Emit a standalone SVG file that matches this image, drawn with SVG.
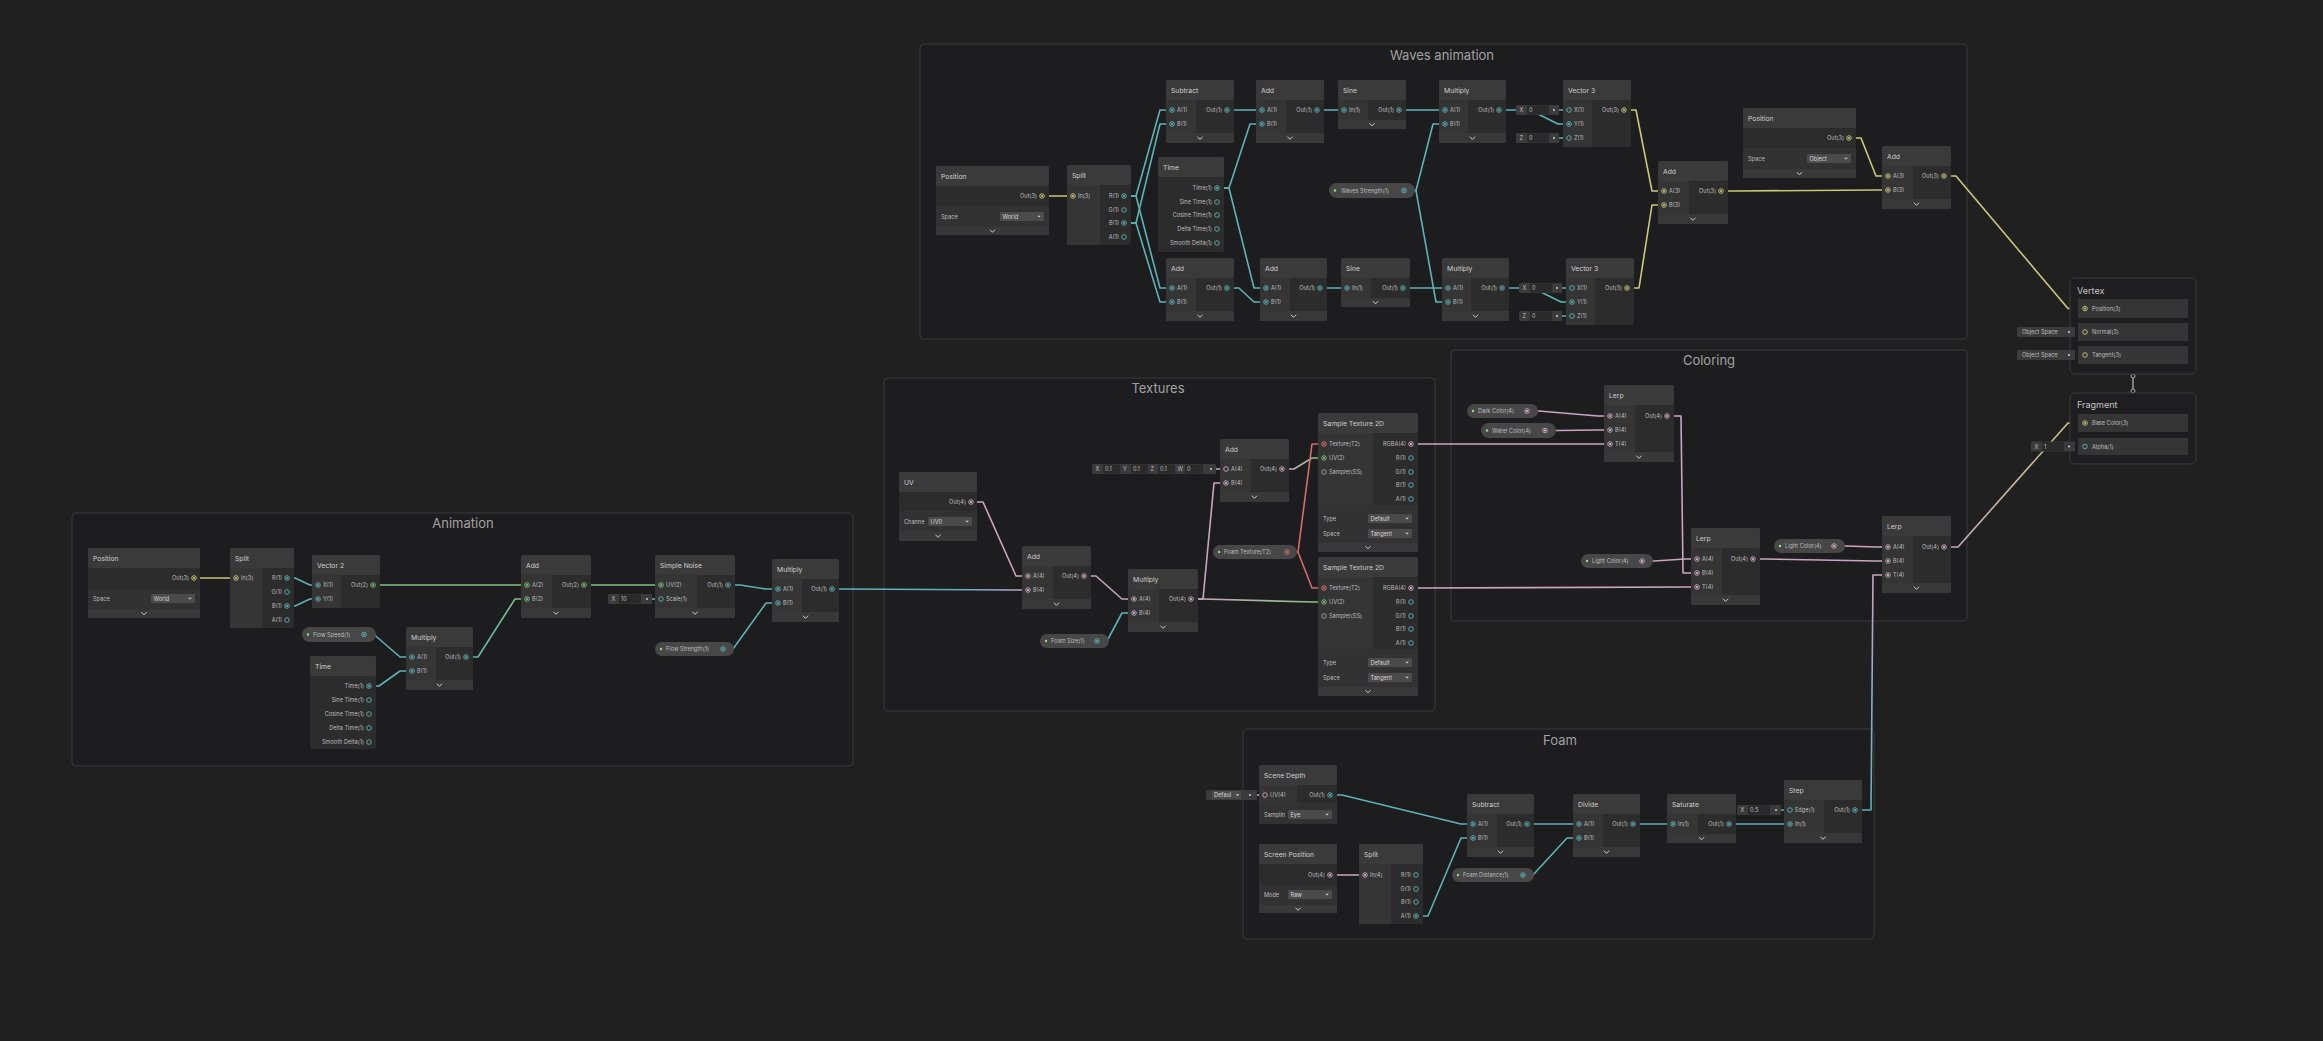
<svg xmlns="http://www.w3.org/2000/svg" width="2323" height="1041" viewBox="0 0 2323 1041">
<style>
.grp{fill:#1d1d1f;stroke:#3a3a3c;stroke-width:1}
.gt{font-family:Inter,"Liberation Sans",sans-serif;font-size:13px;fill:#a2a2a2;text-anchor:middle}
.nb{fill:#2c2c2c}
.hd{fill:#3a3a3a}
.ic{fill:#353535}
.pr{fill:#323232}
.bar{fill:#383838}
.dd{fill:#4b4b4b}
.fl{fill:#3b3b3b}
.fv{fill:#2a2a2a}
.t{font-family:Inter,"Liberation Sans",sans-serif;font-size:6.8px;fill:#cfcfcf}
.l{font-family:Inter,"Liberation Sans",sans-serif;font-size:5.6px;fill:#bdbdbd}
.d{font-family:Inter,"Liberation Sans",sans-serif;font-size:5.6px;fill:#d8d8d8}
.r{text-anchor:end}
.pill{fill:#474747}
.mp{fill:#1e1e20;stroke:#3a3a3c;stroke-width:1}
.mr{fill:#353535}
.mt{font-family:Inter,"Liberation Sans",sans-serif;font-size:9px;fill:#c4c4c4}
.e{fill:none;stroke-width:1.6;stroke-linejoin:round;stroke-linecap:round}
.te{stroke:#5cb3b3}.ye{stroke:#c8c87a}.ge{stroke:#7fc27f}.pe{stroke:#c9a6bf}.re{stroke:#d66b6b}
</style>
<defs>
<g id="pT"><circle r="2.3" fill="none" stroke="#5cb3b3" stroke-width="0.9"/><circle r="1.1" fill="#5cb3b3"/></g>
<circle id="hT" r="2.3" fill="none" stroke="#5cb3b3" stroke-width="0.9"/>
<g id="pY"><circle r="2.3" fill="none" stroke="#c8c87a" stroke-width="0.9"/><circle r="1.1" fill="#c8c87a"/></g>
<circle id="hY" r="2.3" fill="none" stroke="#c8c87a" stroke-width="0.9"/>
<g id="pG"><circle r="2.3" fill="none" stroke="#7fc27f" stroke-width="0.9"/><circle r="1.1" fill="#7fc27f"/></g>
<g id="pP"><circle r="2.3" fill="none" stroke="#c9a6bf" stroke-width="0.9"/><circle r="1.1" fill="#d9c2d2"/></g>
<circle id="hP" r="2.3" fill="none" stroke="#c9a6bf" stroke-width="0.9"/>
<g id="pR"><circle r="2.3" fill="none" stroke="#d66b6b" stroke-width="0.9"/><circle r="1.1" fill="#d66b6b"/></g>
<circle id="hS" r="2.3" fill="none" stroke="#a0a0a0" stroke-width="0.9"/>
<path id="chev" d="M-2.6,-1.3 L0,1.3 L2.6,-1.3" fill="none" stroke="#d0d0d0" stroke-width="1"/>
<path id="dar" d="M-1.8,-0.8 H1.8 L0,1.1 Z" fill="#cfcfcf"/>
<circle id="dot" r="1.2" fill="#8fe07c"/>
<circle id="fd" r="0.9" fill="#dcdcdc"/>
<linearGradient id="g1" gradientUnits="userSpaceOnUse" x1="832" y1="0" x2="1028" y2="0"><stop offset="0.6" stop-color="#5cb3b3"/><stop offset="1" stop-color="#c9a6bf"/></linearGradient>
<linearGradient id="g2" gradientUnits="userSpaceOnUse" x1="1191" y1="0" x2="1324" y2="0"><stop offset="0" stop-color="#c9a6bf"/><stop offset="1" stop-color="#7fc27f"/></linearGradient>
<linearGradient id="g3" gradientUnits="userSpaceOnUse" x1="1282" y1="0" x2="1324" y2="0"><stop offset="0" stop-color="#c9a6bf"/><stop offset="1" stop-color="#7fc27f"/></linearGradient>
<linearGradient id="g4" gradientUnits="userSpaceOnUse" x1="0" y1="810" x2="0" y2="575"><stop offset="0" stop-color="#5cb3b3"/><stop offset="1" stop-color="#c9a6bf"/></linearGradient>
<linearGradient id="g5" gradientUnits="userSpaceOnUse" x1="1944" y1="0" x2="2085" y2="0"><stop offset="0" stop-color="#c9a6bf"/><stop offset="1" stop-color="#c8c87a"/></linearGradient>
<linearGradient id="g6" gradientUnits="userSpaceOnUse" x1="466" y1="0" x2="527" y2="0"><stop offset="0" stop-color="#5cb3b3"/><stop offset="1" stop-color="#7fc27f"/></linearGradient>
</defs>
<rect x="0" y="0" width="2323" height="1041" fill="#202021"/>

<g id="groups">
<g id="group-waves"><rect class="grp" x="920" y="44" width="1047" height="295" rx="4"/><text class="gt" x="1442" y="60">Waves animation</text></g>
<g id="group-textures"><rect class="grp" x="884" y="378" width="551" height="333" rx="4"/><text class="gt" x="1158" y="393">Textures</text></g>
<g id="group-coloring"><rect class="grp" x="1451" y="350" width="516" height="271" rx="4"/><text class="gt" x="1709" y="365">Coloring</text></g>
<g id="group-animation"><rect class="grp" x="72" y="513" width="781" height="253" rx="4"/><text class="gt" x="463" y="528">Animation</text></g>
<g id="group-foam"><rect class="grp" x="1243" y="729" width="631" height="210" rx="4"/><text class="gt" x="1560" y="745">Foam</text></g>
</g>

<g id="connectors">
<path class="e ye" d="M1042,196 H1073"/>
<path class="e te" d="M1124,196 h12 L1160,110 H1172"/>
<path class="e te" d="M1124,196 h12 L1160,288 H1172"/>
<path class="e te" d="M1124,223 h12 L1160,124 H1172"/>
<path class="e te" d="M1124,223 h12 L1160,302 H1172"/>
<path class="e te" d="M1217,188 h12 L1250,124 H1262"/>
<path class="e te" d="M1217,188 h12 L1254,288 H1266"/>
<path class="e te" d="M1227,110 H1262"/>
<path class="e te" d="M1227,288 h12 L1254,302 H1266"/>
<path class="e te" d="M1317,110 H1344"/>
<path class="e te" d="M1320,288 H1347"/>
<path class="e te" d="M1399,110 H1445"/>
<path class="e te" d="M1403,288 H1448"/>
<path class="e te" d="M1404,190.5 h12 L1433,124 H1445"/>
<path class="e te" d="M1404,190.5 h12 L1436,302 H1448"/>
<path class="e te" d="M1499,110 H1530 L1558,124 H1569"/>
<path class="e te" d="M1502,288 H1533 L1561,302 H1572"/>
<path class="e te" d="M1554,110 H1569 M1554,138 H1569 M1557,288 H1572 M1557,316 H1572"/>
<path class="e ye" d="M1624,110 h12 L1652,191 H1664"/>
<path class="e ye" d="M1627,288 h12 L1652,205 H1664"/>
<path class="e ye" d="M1721,191 h12 L1876,190 H1888"/>
<path class="e ye" d="M1849,138 h12 L1876,176 H1888"/>
<path class="e ye" d="M1944,176 h12 L2068,308.5 H2085"/>
<path class="e ye" d="M2069,332 H2085 M2069,355 H2085"/>
<path class="e pe" d="M971,502 h12 L1016,576 H1028"/>
<path class="e" stroke="url(#g1)" d="M832,589 h12 L1016,590 H1028"/>
<path class="e pe" d="M1084,576 h12 L1122,599 H1134"/>
<path class="e te" d="M1097,641 h10 L1122,613 H1134"/>
<path class="e pe" d="M1191,599 h12 L1214,483 H1226"/>
<path class="e" stroke="url(#g2)" d="M1191,599 h12 L1312,602 H1324"/>
<path class="e" stroke="url(#g3)" d="M1282,469 h12 L1312,458 H1324"/>
<path class="e re" d="M1286,552 h12 L1312,444 H1324"/>
<path class="e re" d="M1286,552 h12 L1312,588 H1324"/>
<path class="e pe" d="M1211,469 H1226"/>
<path class="e pe" d="M1411,444 H1610"/>
<path class="e pe" d="M1411,588 h12 L1685,587 H1697"/>
<path class="e pe" d="M1527,411 h12 L1598,416 H1610"/>
<path class="e pe" d="M1545,430.5 h12 L1598,430 H1610"/>
<path class="e pe" d="M1667,416 h14 L1683,573 H1697"/>
<path class="e pe" d="M1642,561 h12 L1685,559 H1697"/>
<path class="e pe" d="M1753,559 h12 L1876,561 H1888"/>
<path class="e pe" d="M1834,546 h12 L1876,547 H1888"/>
<path class="e" stroke="url(#g4)" d="M1855,810 h16 L1873,575 H1888"/>
<path class="e" stroke="url(#g5)" d="M1944,547 h14 L2068,423 H2085"/>
<path class="e te" d="M2069,446.5 H2085"/>
<path class="e ye" d="M194,578 H236"/>
<path class="e te" d="M287,578 h8 L310,585 H318"/>
<path class="e te" d="M287,606 h8 L310,599 H318"/>
<path class="e ge" d="M373,585 H527"/>
<path class="e te" d="M364,634.5 h10 L400,657 H412"/>
<path class="e te" d="M369,686 h10 L400,671 H412"/>
<path class="e" stroke="url(#g6)" d="M466,657 h12 L515,599 H527"/>
<path class="e ge" d="M584,585 H661"/>
<path class="e te" d="M647,599 H661"/>
<path class="e te" d="M728,585 h12 L766,589 H778"/>
<path class="e te" d="M723,649 h10 L766,603 H778"/>
<path class="e pe" d="M1250,795 H1265"/>
<path class="e te" d="M1330,795 h12 L1461,824 H1473"/>
<path class="e pe" d="M1330,875 H1365"/>
<path class="e te" d="M1416,916 h12 L1461,838 H1473"/>
<path class="e te" d="M1527,824 H1579"/>
<path class="e te" d="M1523,875 h10 L1567,838 H1579"/>
<path class="e te" d="M1633,824 H1673"/>
<path class="e te" d="M1729,824 H1790"/>
<path class="e te" d="M1776,810 H1790"/>
<line x1="2133" y1="376" x2="2133" y2="391" stroke="#bdbdbd" stroke-width="1.2"/>
<circle cx="2133" cy="376" r="2" fill="#1e1e20" stroke="#bdbdbd" stroke-width="0.9"/>
<circle cx="2133" cy="391" r="2" fill="#1e1e20" stroke="#bdbdbd" stroke-width="0.9"/>
</g>

<!-- ===== Waves animation ===== -->
<g id="w-position">
<rect class="nb" x="936" y="166" width="113" height="69" rx="2"/><rect class="hd" x="936" y="166" width="113" height="20" rx="2"/>
<text class="t" x="941" y="179">Position</text>
<text class="l r" x="1037" y="198">Out(3)</text><use href="#pY" x="1042" y="196"/>
<rect class="pr" x="936" y="206" width="113" height="21"/><text class="l" x="941" y="218.5">Space</text>
<rect class="dd" x="1000" y="212" width="44" height="9" rx="1"/><text class="d" x="1002.5" y="218.5">World</text><use href="#dar" x="1039" y="216.5"/>
<rect class="bar" x="936" y="227" width="113" height="8"/><use href="#chev" x="992.5" y="231"/>
</g>
<g id="w-split">
<rect class="nb" x="1067" y="165" width="64" height="80" rx="2"/><rect class="hd" x="1067" y="165" width="64" height="20" rx="2"/><rect class="ic" x="1067" y="185" width="33" height="60"/>
<text class="t" x="1072" y="178">Split</text>
<use href="#pY" x="1073" y="196"/><text class="l" x="1078" y="198">In(3)</text>
<text class="l r" x="1119" y="198">R(1)</text><use href="#pT" x="1124" y="196"/>
<text class="l r" x="1119" y="212">G(1)</text><use href="#hT" x="1124" y="210"/>
<text class="l r" x="1119" y="225">B(1)</text><use href="#pT" x="1124" y="223"/>
<text class="l r" x="1119" y="239">A(1)</text><use href="#hT" x="1124" y="237"/>
</g>
<g id="w-subtract">
<rect class="nb" x="1166" y="80" width="68" height="63" rx="2"/><rect class="hd" x="1166" y="80" width="68" height="20" rx="2"/><rect class="ic" x="1166" y="100" width="30" height="33"/><rect class="bar" x="1166" y="133" width="68" height="10"/>
<text class="t" x="1171" y="93">Subtract</text>
<use href="#pT" x="1172" y="110"/><text class="l" x="1177" y="112">A(1)</text>
<use href="#pT" x="1172" y="124"/><text class="l" x="1177" y="126">B(1)</text>
<text class="l r" x="1222" y="112">Out(1)</text><use href="#pT" x="1227" y="110"/>
<use href="#chev" x="1200" y="138"/>
</g>
<g id="w-add-1">
<rect class="nb" x="1256" y="80" width="68" height="63" rx="2"/><rect class="hd" x="1256" y="80" width="68" height="20" rx="2"/><rect class="ic" x="1256" y="100" width="30" height="33"/><rect class="bar" x="1256" y="133" width="68" height="10"/>
<text class="t" x="1261" y="93">Add</text>
<use href="#pT" x="1262" y="110"/><text class="l" x="1267" y="112">A(1)</text>
<use href="#pT" x="1262" y="124"/><text class="l" x="1267" y="126">B(1)</text>
<text class="l r" x="1312" y="112">Out(1)</text><use href="#pT" x="1317" y="110"/>
<use href="#chev" x="1290" y="138"/>
</g>
<g id="w-sine-1">
<rect class="nb" x="1338" y="80" width="68" height="49" rx="2"/><rect class="hd" x="1338" y="80" width="68" height="20" rx="2"/><rect class="ic" x="1338" y="100" width="30" height="20"/><rect class="bar" x="1338" y="120" width="68" height="9"/>
<text class="t" x="1343" y="93">Sine</text>
<use href="#pT" x="1344" y="110"/><text class="l" x="1349" y="112">In(1)</text>
<text class="l r" x="1394" y="112">Out(1)</text><use href="#pT" x="1399" y="110"/>
<use href="#chev" x="1372" y="124.5"/>
</g>
<g id="w-multiply-1">
<rect class="nb" x="1439" y="80" width="67" height="63" rx="2"/><rect class="hd" x="1439" y="80" width="67" height="20" rx="2"/><rect class="ic" x="1439" y="100" width="29" height="33"/><rect class="bar" x="1439" y="133" width="67" height="10"/>
<text class="t" x="1444" y="93">Multiply</text>
<use href="#pT" x="1445" y="110"/><text class="l" x="1450" y="112">A(1)</text>
<use href="#pT" x="1445" y="124"/><text class="l" x="1450" y="126">B(1)</text>
<text class="l r" x="1494" y="112">Out(1)</text><use href="#pT" x="1499" y="110"/>
<use href="#chev" x="1472.5" y="138"/>
</g>
<g id="w-vector3-1">
<rect class="nb" x="1563" y="80" width="68" height="67" rx="2"/><rect class="hd" x="1563" y="80" width="68" height="20" rx="2"/><rect class="ic" x="1563" y="100" width="29" height="47"/>
<text class="t" x="1568" y="93">Vector 3</text>
<use href="#hT" x="1569" y="110"/><text class="l" x="1574" y="112">X(1)</text>
<use href="#pT" x="1569" y="124"/><text class="l" x="1574" y="126">Y(1)</text>
<use href="#hT" x="1569" y="138"/><text class="l" x="1574" y="140">Z(1)</text>
<text class="l r" x="1619" y="112">Out(3)</text><use href="#pY" x="1624" y="110"/>
</g>
<g id="w-vector3-1-x"><rect class="fl" x="1516" y="105" width="43" height="10" rx="1"/><rect class="fv" x="1527" y="105.5" width="22" height="9"/><text class="l" x="1519.5" y="112">X</text><text class="l" x="1529" y="112">0</text><use href="#fd" x="1554" y="110"/></g>
<g id="w-vector3-1-z"><rect class="fl" x="1516" y="133" width="43" height="10" rx="1"/><rect class="fv" x="1527" y="133.5" width="22" height="9"/><text class="l" x="1519.5" y="140">Z</text><text class="l" x="1529" y="140">0</text><use href="#fd" x="1554" y="138"/></g>
<g id="w-time">
<rect class="nb" x="1158" y="157" width="66" height="95" rx="2"/><rect class="hd" x="1158" y="157" width="66" height="20" rx="2"/>
<text class="t" x="1163" y="170">Time</text>
<text class="l r" x="1212" y="190">Time(1)</text><use href="#pT" x="1217" y="188"/>
<text class="l r" x="1212" y="204">Sine Time(1)</text><use href="#hT" x="1217" y="202"/>
<text class="l r" x="1212" y="217">Cosine Time(1)</text><use href="#hT" x="1217" y="215"/>
<text class="l r" x="1212" y="231">Delta Time(1)</text><use href="#hT" x="1217" y="229"/>
<text class="l r" x="1212" y="245">Smooth Delta(1)</text><use href="#hT" x="1217" y="243"/>
</g>
<g id="w-add-2">
<rect class="nb" x="1166" y="258" width="68" height="63" rx="2"/><rect class="hd" x="1166" y="258" width="68" height="20" rx="2"/><rect class="ic" x="1166" y="278" width="30" height="33"/><rect class="bar" x="1166" y="311" width="68" height="10"/>
<text class="t" x="1171" y="271">Add</text>
<use href="#pT" x="1172" y="288"/><text class="l" x="1177" y="290">A(1)</text>
<use href="#pT" x="1172" y="302"/><text class="l" x="1177" y="304">B(1)</text>
<text class="l r" x="1222" y="290">Out(1)</text><use href="#pT" x="1227" y="288"/>
<use href="#chev" x="1200" y="316"/>
</g>
<g id="w-add-3">
<rect class="nb" x="1260" y="258" width="67" height="63" rx="2"/><rect class="hd" x="1260" y="258" width="67" height="20" rx="2"/><rect class="ic" x="1260" y="278" width="30" height="33"/><rect class="bar" x="1260" y="311" width="67" height="10"/>
<text class="t" x="1265" y="271">Add</text>
<use href="#pT" x="1266" y="288"/><text class="l" x="1271" y="290">A(1)</text>
<use href="#pT" x="1266" y="302"/><text class="l" x="1271" y="304">B(1)</text>
<text class="l r" x="1315" y="290">Out(1)</text><use href="#pT" x="1320" y="288"/>
<use href="#chev" x="1293.5" y="316"/>
</g>
<g id="w-sine-2">
<rect class="nb" x="1341" y="258" width="69" height="49" rx="2"/><rect class="hd" x="1341" y="258" width="69" height="20" rx="2"/><rect class="ic" x="1341" y="278" width="30" height="20"/><rect class="bar" x="1341" y="298" width="69" height="9"/>
<text class="t" x="1346" y="271">Sine</text>
<use href="#pT" x="1347" y="288"/><text class="l" x="1352" y="290">In(1)</text>
<text class="l r" x="1398" y="290">Out(1)</text><use href="#pT" x="1403" y="288"/>
<use href="#chev" x="1375.5" y="302.5"/>
</g>
<g id="w-multiply-2">
<rect class="nb" x="1442" y="258" width="67" height="63" rx="2"/><rect class="hd" x="1442" y="258" width="67" height="20" rx="2"/><rect class="ic" x="1442" y="278" width="29" height="33"/><rect class="bar" x="1442" y="311" width="67" height="10"/>
<text class="t" x="1447" y="271">Multiply</text>
<use href="#pT" x="1448" y="288"/><text class="l" x="1453" y="290">A(1)</text>
<use href="#pT" x="1448" y="302"/><text class="l" x="1453" y="304">B(1)</text>
<text class="l r" x="1497" y="290">Out(1)</text><use href="#pT" x="1502" y="288"/>
<use href="#chev" x="1475.5" y="316"/>
</g>
<g id="w-vector3-2">
<rect class="nb" x="1566" y="258" width="68" height="67" rx="2"/><rect class="hd" x="1566" y="258" width="68" height="20" rx="2"/><rect class="ic" x="1566" y="278" width="29" height="47"/>
<text class="t" x="1571" y="271">Vector 3</text>
<use href="#hT" x="1572" y="288"/><text class="l" x="1577" y="290">X(1)</text>
<use href="#pT" x="1572" y="302"/><text class="l" x="1577" y="304">Y(1)</text>
<use href="#hT" x="1572" y="316"/><text class="l" x="1577" y="318">Z(1)</text>
<text class="l r" x="1622" y="290">Out(3)</text><use href="#pY" x="1627" y="288"/>
</g>
<g id="w-vector3-2-x"><rect class="fl" x="1519" y="283" width="43" height="10" rx="1"/><rect class="fv" x="1530" y="283.5" width="22" height="9"/><text class="l" x="1522.5" y="290">X</text><text class="l" x="1532" y="290">0</text><use href="#fd" x="1557" y="288"/></g>
<g id="w-vector3-2-z"><rect class="fl" x="1519" y="311" width="43" height="10" rx="1"/><rect class="fv" x="1530" y="311.5" width="22" height="9"/><text class="l" x="1522.5" y="318">Z</text><text class="l" x="1532" y="318">0</text><use href="#fd" x="1557" y="316"/></g>
<g id="w-waves-strength"><rect class="pill" x="1329" y="183" width="86" height="15" rx="7.5"/><use href="#dot" x="1335" y="190.5"/><text class="l" x="1341" y="192.5">Waves Strength(1)</text><use href="#pT" x="1404" y="190.5"/></g>
<g id="w-add-4">
<rect class="nb" x="1658" y="161" width="70" height="63" rx="2"/><rect class="hd" x="1658" y="161" width="70" height="20" rx="2"/><rect class="ic" x="1658" y="181" width="31" height="33"/><rect class="bar" x="1658" y="214" width="70" height="10"/>
<text class="t" x="1663" y="174">Add</text>
<use href="#pY" x="1664" y="191"/><text class="l" x="1669" y="193">A(3)</text>
<use href="#pY" x="1664" y="205"/><text class="l" x="1669" y="207">B(3)</text>
<text class="l r" x="1716" y="193">Out(3)</text><use href="#pY" x="1721" y="191"/>
<use href="#chev" x="1693" y="219"/>
</g>
<g id="w-position-object">
<rect class="nb" x="1743" y="108" width="113" height="70" rx="2"/><rect class="hd" x="1743" y="108" width="113" height="20" rx="2"/>
<text class="t" x="1748" y="121">Position</text>
<text class="l r" x="1844" y="140">Out(3)</text><use href="#pY" x="1849" y="138"/>
<rect class="pr" x="1743" y="148" width="113" height="21"/><text class="l" x="1748" y="160.5">Space</text>
<rect class="dd" x="1807" y="154" width="44" height="9" rx="1"/><text class="d" x="1809.5" y="160.5">Object</text><use href="#dar" x="1846" y="158.5"/>
<rect class="bar" x="1743" y="169" width="113" height="9"/><use href="#chev" x="1799.5" y="173.5"/>
</g>
<g id="w-add-5">
<rect class="nb" x="1882" y="146" width="69" height="63" rx="2"/><rect class="hd" x="1882" y="146" width="69" height="20" rx="2"/><rect class="ic" x="1882" y="166" width="31" height="33"/><rect class="bar" x="1882" y="199" width="69" height="10"/>
<text class="t" x="1887" y="159">Add</text>
<use href="#pY" x="1888" y="176"/><text class="l" x="1893" y="178">A(3)</text>
<use href="#pY" x="1888" y="190"/><text class="l" x="1893" y="192">B(3)</text>
<text class="l r" x="1939" y="178">Out(3)</text><use href="#pY" x="1944" y="176"/>
<use href="#chev" x="1916.5" y="204"/>
</g>

<!-- ===== Master stack ===== -->
<g id="vertex">
<rect class="mp" x="2070" y="278" width="126" height="96" rx="5"/>
<text class="mt" x="2077" y="294">Vertex</text>
<rect class="mr" x="2078" y="299" width="110" height="19"/><use href="#pY" x="2085" y="308.5"/><text class="l" x="2092" y="310.5">Position(3)</text>
<rect class="mr" x="2078" y="323" width="110" height="18"/><use href="#hY" x="2085" y="332"/><text class="l" x="2092" y="334">Normal(3)</text>
<rect class="mr" x="2078" y="346" width="110" height="18"/><use href="#hY" x="2085" y="355"/><text class="l" x="2092" y="357">Tangent(3)</text>
</g>
<g id="vertex-normal-space"><rect class="fl" x="2017" y="327" width="58" height="10" rx="1"/><text class="l" x="2022" y="334">Object Space</text><use href="#fd" x="2069" y="332"/></g>
<g id="vertex-tangent-space"><rect class="fl" x="2017" y="350" width="58" height="10" rx="1"/><text class="l" x="2022" y="357">Object Space</text><use href="#fd" x="2069" y="355"/></g>
<g id="fragment">
<rect class="mp" x="2070" y="393" width="126" height="71" rx="5"/>
<text class="mt" x="2077" y="408">Fragment</text>
<rect class="mr" x="2078" y="414" width="110" height="18"/><use href="#pY" x="2085" y="423"/><text class="l" x="2092" y="425">Base Color(3)</text>
<rect class="mr" x="2078" y="438" width="110" height="17"/><use href="#hT" x="2085" y="446.5"/><text class="l" x="2092" y="448.5">Alpha(1)</text>
</g>
<g id="fragment-alpha"><rect class="fl" x="2031" y="441.5" width="44" height="10" rx="1"/><rect class="fv" x="2042" y="442" width="22" height="9"/><text class="l" x="2034.5" y="448.5">X</text><text class="l" x="2044" y="448.5">1</text><use href="#fd" x="2069" y="446.5"/></g>

<!-- ===== Textures ===== -->
<g id="t-uv">
<rect class="nb" x="899" y="472" width="78" height="69" rx="2"/><rect class="hd" x="899" y="472" width="78" height="20" rx="2"/>
<text class="t" x="904" y="485">UV</text>
<text class="l r" x="966" y="504">Out(4)</text><use href="#pP" x="971" y="502"/>
<rect class="pr" x="899" y="511" width="78" height="20"/><text class="l" x="904" y="523.5">Channe</text>
<rect class="dd" x="928" y="517" width="44" height="9" rx="1"/><text class="d" x="930.5" y="523.5">UV0</text><use href="#dar" x="967" y="521.5"/>
<rect class="bar" x="899" y="531" width="78" height="10"/><use href="#chev" x="938" y="536"/>
</g>
<g id="t-add-1">
<rect class="nb" x="1022" y="546" width="69" height="63" rx="2"/><rect class="hd" x="1022" y="546" width="69" height="20" rx="2"/><rect class="ic" x="1022" y="566" width="31" height="33"/><rect class="bar" x="1022" y="599" width="69" height="10"/>
<text class="t" x="1027" y="559">Add</text>
<use href="#pP" x="1028" y="576"/><text class="l" x="1033" y="578">A(4)</text>
<use href="#pP" x="1028" y="590"/><text class="l" x="1033" y="592">B(4)</text>
<text class="l r" x="1079" y="578">Out(4)</text><use href="#pP" x="1084" y="576"/>
<use href="#chev" x="1056.5" y="604"/>
</g>
<g id="t-multiply">
<rect class="nb" x="1128" y="569" width="70" height="63" rx="2"/><rect class="hd" x="1128" y="569" width="70" height="20" rx="2"/><rect class="ic" x="1128" y="589" width="31" height="33"/><rect class="bar" x="1128" y="622" width="70" height="10"/>
<text class="t" x="1133" y="582">Multiply</text>
<use href="#pP" x="1134" y="599"/><text class="l" x="1139" y="601">A(4)</text>
<use href="#pP" x="1134" y="613"/><text class="l" x="1139" y="615">B(4)</text>
<text class="l r" x="1186" y="601">Out(4)</text><use href="#pP" x="1191" y="599"/>
<use href="#chev" x="1163" y="627"/>
</g>
<g id="t-foam-size"><rect class="pill" x="1040" y="634" width="69" height="14" rx="7"/><use href="#dot" x="1046" y="641"/><text class="l" x="1051" y="643">Foam Size(1)</text><use href="#pT" x="1097" y="641"/></g>
<g id="t-offset">
<rect class="fl" x="1092" y="464" width="124" height="10" rx="1"/>
<rect class="fv" x="1103" y="464.5" width="17" height="9"/><rect class="fv" x="1131" y="464.5" width="17" height="9"/><rect class="fv" x="1158" y="464.5" width="17" height="9"/><rect class="fv" x="1185" y="464.5" width="18" height="9"/>
<text class="l" x="1095.5" y="471">X</text><text class="l" x="1105" y="471">0.1</text>
<text class="l" x="1123" y="471">Y</text><text class="l" x="1133" y="471">0.1</text>
<text class="l" x="1150.5" y="471">Z</text><text class="l" x="1160" y="471">0.1</text>
<text class="l" x="1177.5" y="471">W</text><text class="l" x="1187" y="471">0</text>
<use href="#fd" x="1211" y="469"/>
</g>
<g id="t-add-2">
<rect class="nb" x="1220" y="439" width="69" height="63" rx="2"/><rect class="hd" x="1220" y="439" width="69" height="20" rx="2"/><rect class="ic" x="1220" y="459" width="31" height="33"/><rect class="bar" x="1220" y="492" width="69" height="10"/>
<text class="t" x="1225" y="452">Add</text>
<use href="#hP" x="1226" y="469"/><text class="l" x="1231" y="471">A(4)</text>
<use href="#pP" x="1226" y="483"/><text class="l" x="1231" y="485">B(4)</text>
<text class="l r" x="1277" y="471">Out(4)</text><use href="#pP" x="1282" y="469"/>
<use href="#chev" x="1254.5" y="497"/>
</g>
<g id="t-foam-texture"><rect class="pill" x="1213" y="545" width="84" height="14" rx="7"/><use href="#dot" x="1219" y="552"/><text class="l" x="1224" y="554">Foam Texture(T2)</text><use href="#pR" x="1287" y="552"/></g>
<g id="t-sample-1">
<rect class="nb" x="1318" y="413" width="100" height="139" rx="2"/><rect class="hd" x="1318" y="413" width="100" height="20" rx="2"/><rect class="ic" x="1318" y="433" width="55" height="72"/>
<text class="t" x="1323" y="426">Sample Texture 2D</text>
<use href="#pR" x="1324" y="444"/><text class="l" x="1329" y="446">Texture(T2)</text>
<use href="#pG" x="1324" y="458"/><text class="l" x="1329" y="460">UV(2)</text>
<use href="#hS" x="1324" y="472"/><text class="l" x="1329" y="474">Sampler(SS)</text>
<text class="l r" x="1406" y="446">RGBA(4)</text><use href="#pP" x="1411" y="444"/>
<text class="l r" x="1406" y="460">R(1)</text><use href="#hT" x="1411" y="458"/>
<text class="l r" x="1406" y="474">G(1)</text><use href="#hT" x="1411" y="472"/>
<text class="l r" x="1406" y="487">B(1)</text><use href="#hT" x="1411" y="485"/>
<text class="l r" x="1406" y="501">A(1)</text><use href="#hT" x="1411" y="499"/>
<rect class="pr" x="1318" y="505" width="100" height="38"/>
<text class="l" x="1323" y="520.5">Type</text><rect class="dd" x="1368" y="514" width="44" height="9" rx="1"/><text class="d" x="1370.5" y="520.5">Default</text><use href="#dar" x="1407" y="518.5"/>
<text class="l" x="1323" y="535.5">Space</text><rect class="dd" x="1368" y="529" width="44" height="9" rx="1"/><text class="d" x="1370.5" y="535.5">Tangent</text><use href="#dar" x="1407" y="533.5"/>
<rect class="bar" x="1318" y="543" width="100" height="9"/><use href="#chev" x="1368" y="547.5"/>
</g>
<g id="t-sample-2">
<rect class="nb" x="1318" y="557" width="100" height="139" rx="2"/><rect class="hd" x="1318" y="557" width="100" height="20" rx="2"/><rect class="ic" x="1318" y="577" width="55" height="72"/>
<text class="t" x="1323" y="570">Sample Texture 2D</text>
<use href="#pR" x="1324" y="588"/><text class="l" x="1329" y="590">Texture(T2)</text>
<use href="#pG" x="1324" y="602"/><text class="l" x="1329" y="604">UV(2)</text>
<use href="#hS" x="1324" y="616"/><text class="l" x="1329" y="618">Sampler(SS)</text>
<text class="l r" x="1406" y="590">RGBA(4)</text><use href="#pP" x="1411" y="588"/>
<text class="l r" x="1406" y="604">R(1)</text><use href="#hT" x="1411" y="602"/>
<text class="l r" x="1406" y="618">G(1)</text><use href="#hT" x="1411" y="616"/>
<text class="l r" x="1406" y="631">B(1)</text><use href="#hT" x="1411" y="629"/>
<text class="l r" x="1406" y="645">A(1)</text><use href="#hT" x="1411" y="643"/>
<rect class="pr" x="1318" y="649" width="100" height="38"/>
<text class="l" x="1323" y="664.5">Type</text><rect class="dd" x="1368" y="658" width="44" height="9" rx="1"/><text class="d" x="1370.5" y="664.5">Default</text><use href="#dar" x="1407" y="662.5"/>
<text class="l" x="1323" y="679.5">Space</text><rect class="dd" x="1368" y="673" width="44" height="9" rx="1"/><text class="d" x="1370.5" y="679.5">Tangent</text><use href="#dar" x="1407" y="677.5"/>
<rect class="bar" x="1318" y="687" width="100" height="9"/><use href="#chev" x="1368" y="691.5"/>
</g>

<!-- ===== Coloring ===== -->
<g id="c-lerp-1">
<rect class="nb" x="1604" y="385" width="70" height="77" rx="2"/><rect class="hd" x="1604" y="385" width="70" height="20" rx="2"/><rect class="ic" x="1604" y="405" width="31" height="47"/><rect class="bar" x="1604" y="452" width="70" height="10"/>
<text class="t" x="1609" y="398">Lerp</text>
<use href="#pP" x="1610" y="416"/><text class="l" x="1615" y="418">A(4)</text>
<use href="#pP" x="1610" y="430"/><text class="l" x="1615" y="432">B(4)</text>
<use href="#pP" x="1610" y="444"/><text class="l" x="1615" y="446">T(4)</text>
<text class="l r" x="1662" y="418">Out(4)</text><use href="#pP" x="1667" y="416"/>
<use href="#chev" x="1639" y="457"/>
</g>
<g id="c-dark-color"><rect class="pill" x="1467" y="404" width="71" height="14" rx="7"/><use href="#dot" x="1473" y="411"/><text class="l" x="1478" y="413">Dark Color(4)</text><use href="#pP" x="1527" y="411"/></g>
<g id="c-water-color"><rect class="pill" x="1481" y="423" width="75" height="15" rx="7.5"/><use href="#dot" x="1487" y="430.5"/><text class="l" x="1492" y="432.5">Water Color(4)</text><use href="#pP" x="1545" y="430.5"/></g>
<g id="c-lerp-2">
<rect class="nb" x="1691" y="528" width="69" height="77" rx="2"/><rect class="hd" x="1691" y="528" width="69" height="20" rx="2"/><rect class="ic" x="1691" y="548" width="31" height="47"/><rect class="bar" x="1691" y="595" width="69" height="10"/>
<text class="t" x="1696" y="541">Lerp</text>
<use href="#pP" x="1697" y="559"/><text class="l" x="1702" y="561">A(4)</text>
<use href="#pP" x="1697" y="573"/><text class="l" x="1702" y="575">B(4)</text>
<use href="#pP" x="1697" y="587"/><text class="l" x="1702" y="589">T(4)</text>
<text class="l r" x="1748" y="561">Out(4)</text><use href="#pP" x="1753" y="559"/>
<use href="#chev" x="1725.5" y="600"/>
</g>
<g id="c-light-color-1"><rect class="pill" x="1581" y="554" width="72" height="14" rx="7"/><use href="#dot" x="1587" y="561"/><text class="l" x="1592" y="563">Light Color(4)</text><use href="#pP" x="1642" y="561"/></g>
<g id="c-light-color-2"><rect class="pill" x="1774" y="539" width="71" height="14" rx="7"/><use href="#dot" x="1780" y="546"/><text class="l" x="1785" y="548">Light Color(4)</text><use href="#pP" x="1834" y="546"/></g>
<g id="c-lerp-3">
<rect class="nb" x="1882" y="516" width="69" height="77" rx="2"/><rect class="hd" x="1882" y="516" width="69" height="20" rx="2"/><rect class="ic" x="1882" y="536" width="31" height="47"/><rect class="bar" x="1882" y="583" width="69" height="10"/>
<text class="t" x="1887" y="529">Lerp</text>
<use href="#pP" x="1888" y="547"/><text class="l" x="1893" y="549">A(4)</text>
<use href="#pP" x="1888" y="561"/><text class="l" x="1893" y="563">B(4)</text>
<use href="#pP" x="1888" y="575"/><text class="l" x="1893" y="577">T(4)</text>
<text class="l r" x="1939" y="549">Out(4)</text><use href="#pP" x="1944" y="547"/>
<use href="#chev" x="1916.5" y="588"/>
</g>

<!-- ===== Animation ===== -->
<g id="a-position">
<rect class="nb" x="88" y="548" width="112" height="70" rx="2"/><rect class="hd" x="88" y="548" width="112" height="20" rx="2"/>
<text class="t" x="93" y="561">Position</text>
<text class="l r" x="189" y="580">Out(3)</text><use href="#pY" x="194" y="578"/>
<rect class="pr" x="88" y="589" width="112" height="20"/><text class="l" x="93" y="601">Space</text>
<rect class="dd" x="151" y="594" width="44" height="9" rx="1"/><text class="d" x="153.5" y="600.5">World</text><use href="#dar" x="190" y="598.5"/>
<rect class="bar" x="88" y="609" width="112" height="9"/><use href="#chev" x="144" y="613.5"/>
</g>
<g id="a-split">
<rect class="nb" x="230" y="548" width="64" height="80" rx="2"/><rect class="hd" x="230" y="548" width="64" height="20" rx="2"/><rect class="ic" x="230" y="568" width="32" height="60"/>
<text class="t" x="235" y="561">Split</text>
<use href="#pY" x="236" y="578"/><text class="l" x="241" y="580">In(3)</text>
<text class="l r" x="282" y="580">R(1)</text><use href="#pT" x="287" y="578"/>
<text class="l r" x="282" y="594">G(1)</text><use href="#hT" x="287" y="592"/>
<text class="l r" x="282" y="608">B(1)</text><use href="#pT" x="287" y="606"/>
<text class="l r" x="282" y="622">A(1)</text><use href="#hT" x="287" y="620"/>
</g>
<g id="a-vector2">
<rect class="nb" x="312" y="555" width="68" height="53" rx="2"/><rect class="hd" x="312" y="555" width="68" height="20" rx="2"/><rect class="ic" x="312" y="575" width="29" height="33"/>
<text class="t" x="317" y="568">Vector 2</text>
<use href="#pT" x="318" y="585"/><text class="l" x="323" y="587">X(1)</text>
<use href="#pT" x="318" y="599"/><text class="l" x="323" y="601">Y(1)</text>
<text class="l r" x="368" y="587">Out(2)</text><use href="#pG" x="373" y="585"/>
</g>
<g id="a-flow-speed"><rect class="pill" x="302" y="627" width="74" height="15" rx="7.5"/><use href="#dot" x="308" y="634.5"/><text class="l" x="313" y="636.5">Flow Speed(1)</text><use href="#pT" x="364" y="634.5"/></g>
<g id="a-time">
<rect class="nb" x="310" y="656" width="66" height="93" rx="2"/><rect class="hd" x="310" y="656" width="66" height="20" rx="2"/>
<text class="t" x="315" y="669">Time</text>
<text class="l r" x="364" y="688">Time(1)</text><use href="#pT" x="369" y="686"/>
<text class="l r" x="364" y="702">Sine Time(1)</text><use href="#hT" x="369" y="700"/>
<text class="l r" x="364" y="716">Cosine Time(1)</text><use href="#hT" x="369" y="714"/>
<text class="l r" x="364" y="730">Delta Time(1)</text><use href="#hT" x="369" y="728"/>
<text class="l r" x="364" y="744">Smooth Delta(1)</text><use href="#hT" x="369" y="742"/>
</g>
<g id="a-multiply-1">
<rect class="nb" x="406" y="627" width="67" height="63" rx="2"/><rect class="hd" x="406" y="627" width="67" height="20" rx="2"/><rect class="ic" x="406" y="647" width="30" height="33"/><rect class="bar" x="406" y="680" width="67" height="10"/>
<text class="t" x="411" y="640">Multiply</text>
<use href="#pT" x="412" y="657"/><text class="l" x="417" y="659">A(1)</text>
<use href="#pT" x="412" y="671"/><text class="l" x="417" y="673">B(1)</text>
<text class="l r" x="461" y="659">Out(1)</text><use href="#pT" x="466" y="657"/>
<use href="#chev" x="439.5" y="685"/>
</g>
<g id="a-add">
<rect class="nb" x="521" y="555" width="70" height="63" rx="2"/><rect class="hd" x="521" y="555" width="70" height="20" rx="2"/><rect class="ic" x="521" y="575" width="31" height="33"/><rect class="bar" x="521" y="608" width="70" height="10"/>
<text class="t" x="526" y="568">Add</text>
<use href="#pG" x="527" y="585"/><text class="l" x="532" y="587">A(2)</text>
<use href="#pG" x="527" y="599"/><text class="l" x="532" y="601">B(2)</text>
<text class="l r" x="579" y="587">Out(2)</text><use href="#pG" x="584" y="585"/>
<use href="#chev" x="556" y="613"/>
</g>
<g id="a-simple-noise">
<rect class="nb" x="655" y="555" width="80" height="63" rx="2"/><rect class="hd" x="655" y="555" width="80" height="20" rx="2"/><rect class="ic" x="655" y="575" width="42" height="33"/><rect class="bar" x="655" y="608" width="80" height="10"/>
<text class="t" x="660" y="568">Simple Noise</text>
<use href="#pG" x="661" y="585"/><text class="l" x="666" y="587">UV(2)</text>
<use href="#hT" x="661" y="599"/><text class="l" x="666" y="601">Scale(1)</text>
<text class="l r" x="723" y="587">Out(1)</text><use href="#pT" x="728" y="585"/>
<use href="#chev" x="695" y="613"/>
</g>
<g id="a-scale"><rect class="fl" x="608" y="594" width="44" height="10" rx="1"/><rect class="fv" x="619" y="594.5" width="22" height="9"/><text class="l" x="611.5" y="601">X</text><text class="l" x="621" y="601">10</text><use href="#fd" x="647" y="599"/></g>
<g id="a-multiply-2">
<rect class="nb" x="772" y="559" width="67" height="63" rx="2"/><rect class="hd" x="772" y="559" width="67" height="20" rx="2"/><rect class="ic" x="772" y="579" width="30" height="33"/><rect class="bar" x="772" y="612" width="67" height="10"/>
<text class="t" x="777" y="572">Multiply</text>
<use href="#pT" x="778" y="589"/><text class="l" x="783" y="591">A(1)</text>
<use href="#pT" x="778" y="603"/><text class="l" x="783" y="605">B(1)</text>
<text class="l r" x="827" y="591">Out(1)</text><use href="#pT" x="832" y="589"/>
<use href="#chev" x="805.5" y="617"/>
</g>
<g id="a-flow-strength"><rect class="pill" x="655" y="642" width="79" height="14" rx="7"/><use href="#dot" x="661" y="649"/><text class="l" x="666" y="651">Flow Strength(1)</text><use href="#pT" x="723" y="649"/></g>

<!-- ===== Foam ===== -->
<g id="f-scene-depth">
<rect class="nb" x="1259" y="765" width="78" height="59" rx="2"/><rect class="hd" x="1259" y="765" width="78" height="20" rx="2"/><rect class="ic" x="1259" y="785" width="38" height="18"/>
<text class="t" x="1264" y="778">Scene Depth</text>
<use href="#hP" x="1265" y="795"/><text class="l" x="1270" y="797">UV(4)</text>
<text class="l r" x="1325" y="797">Out(1)</text><use href="#pT" x="1330" y="795"/>
<rect class="pr" x="1259" y="803" width="78" height="21"/><text class="l" x="1264" y="816.5">Samplin</text>
<rect class="dd" x="1288" y="810" width="44" height="9" rx="1"/><text class="d" x="1290.5" y="816.5">Eye</text><use href="#dar" x="1327" y="814.5"/>
</g>
<g id="f-uv-default"><rect class="fl" x="1206" y="790" width="51" height="10" rx="1"/><rect class="dd" x="1212" y="791" width="29" height="8" rx="1"/><text class="d" x="1214" y="797">Defaul</text><use href="#dar" x="1237.5" y="795"/><use href="#fd" x="1250" y="795"/></g>
<g id="f-screen-position">
<rect class="nb" x="1259" y="844" width="78" height="69" rx="2"/><rect class="hd" x="1259" y="844" width="78" height="20" rx="2"/>
<text class="t" x="1264" y="857">Screen Position</text>
<text class="l r" x="1325" y="877">Out(4)</text><use href="#pP" x="1330" y="875"/>
<rect class="pr" x="1259" y="885" width="78" height="20"/><text class="l" x="1264" y="896.5">Mode</text>
<rect class="dd" x="1288" y="890" width="44" height="9" rx="1"/><text class="d" x="1290.5" y="896.5">Raw</text><use href="#dar" x="1327" y="894.5"/>
<rect class="bar" x="1259" y="905" width="78" height="8"/><use href="#chev" x="1298" y="909"/>
</g>
<g id="f-split">
<rect class="nb" x="1359" y="844" width="64" height="80" rx="2"/><rect class="hd" x="1359" y="844" width="64" height="20" rx="2"/><rect class="ic" x="1359" y="864" width="32" height="60"/>
<text class="t" x="1364" y="857">Split</text>
<use href="#pP" x="1365" y="875"/><text class="l" x="1370" y="877">In(4)</text>
<text class="l r" x="1411" y="877">R(1)</text><use href="#hT" x="1416" y="875"/>
<text class="l r" x="1411" y="891">G(1)</text><use href="#hT" x="1416" y="889"/>
<text class="l r" x="1411" y="904">B(1)</text><use href="#hT" x="1416" y="902"/>
<text class="l r" x="1411" y="918">A(1)</text><use href="#pT" x="1416" y="916"/>
</g>
<g id="f-subtract">
<rect class="nb" x="1467" y="794" width="67" height="63" rx="2"/><rect class="hd" x="1467" y="794" width="67" height="20" rx="2"/><rect class="ic" x="1467" y="814" width="30" height="33"/><rect class="bar" x="1467" y="847" width="67" height="10"/>
<text class="t" x="1472" y="807">Subtract</text>
<use href="#pT" x="1473" y="824"/><text class="l" x="1478" y="826">A(1)</text>
<use href="#pT" x="1473" y="838"/><text class="l" x="1478" y="840">B(1)</text>
<text class="l r" x="1522" y="826">Out(1)</text><use href="#pT" x="1527" y="824"/>
<use href="#chev" x="1500.5" y="852"/>
</g>
<g id="f-foam-distance"><rect class="pill" x="1452" y="868" width="82" height="14" rx="7"/><use href="#dot" x="1458" y="875"/><text class="l" x="1463" y="877">Foam Distance(1)</text><use href="#pT" x="1523" y="875"/></g>
<g id="f-divide">
<rect class="nb" x="1573" y="794" width="67" height="63" rx="2"/><rect class="hd" x="1573" y="794" width="67" height="20" rx="2"/><rect class="ic" x="1573" y="814" width="30" height="33"/><rect class="bar" x="1573" y="847" width="67" height="10"/>
<text class="t" x="1578" y="807">Divide</text>
<use href="#pT" x="1579" y="824"/><text class="l" x="1584" y="826">A(1)</text>
<use href="#pT" x="1579" y="838"/><text class="l" x="1584" y="840">B(1)</text>
<text class="l r" x="1628" y="826">Out(1)</text><use href="#pT" x="1633" y="824"/>
<use href="#chev" x="1606.5" y="852"/>
</g>
<g id="f-saturate">
<rect class="nb" x="1667" y="794" width="69" height="49" rx="2"/><rect class="hd" x="1667" y="794" width="69" height="20" rx="2"/><rect class="ic" x="1667" y="814" width="31" height="20"/><rect class="bar" x="1667" y="834" width="69" height="9"/>
<text class="t" x="1672" y="807">Saturate</text>
<use href="#pT" x="1673" y="824"/><text class="l" x="1678" y="826">In(1)</text>
<text class="l r" x="1724" y="826">Out(1)</text><use href="#pT" x="1729" y="824"/>
<use href="#chev" x="1701.5" y="838.5"/>
</g>
<g id="f-edge"><rect class="fl" x="1737" y="805" width="44" height="10" rx="1"/><rect class="fv" x="1748" y="805.5" width="22" height="9"/><text class="l" x="1740.5" y="812">X</text><text class="l" x="1750" y="812">0.5</text><use href="#fd" x="1776" y="810"/></g>
<g id="f-step">
<rect class="nb" x="1784" y="780" width="78" height="63" rx="2"/><rect class="hd" x="1784" y="780" width="78" height="20" rx="2"/><rect class="ic" x="1784" y="800" width="40" height="33"/><rect class="bar" x="1784" y="833" width="78" height="10"/>
<text class="t" x="1789" y="793">Step</text>
<use href="#hT" x="1790" y="810"/><text class="l" x="1795" y="812">Edge(1)</text>
<use href="#pT" x="1790" y="824"/><text class="l" x="1795" y="826">In(1)</text>
<text class="l r" x="1850" y="812">Out(1)</text><use href="#pT" x="1855" y="810"/>
<use href="#chev" x="1823" y="838"/>
</g>
</svg>
